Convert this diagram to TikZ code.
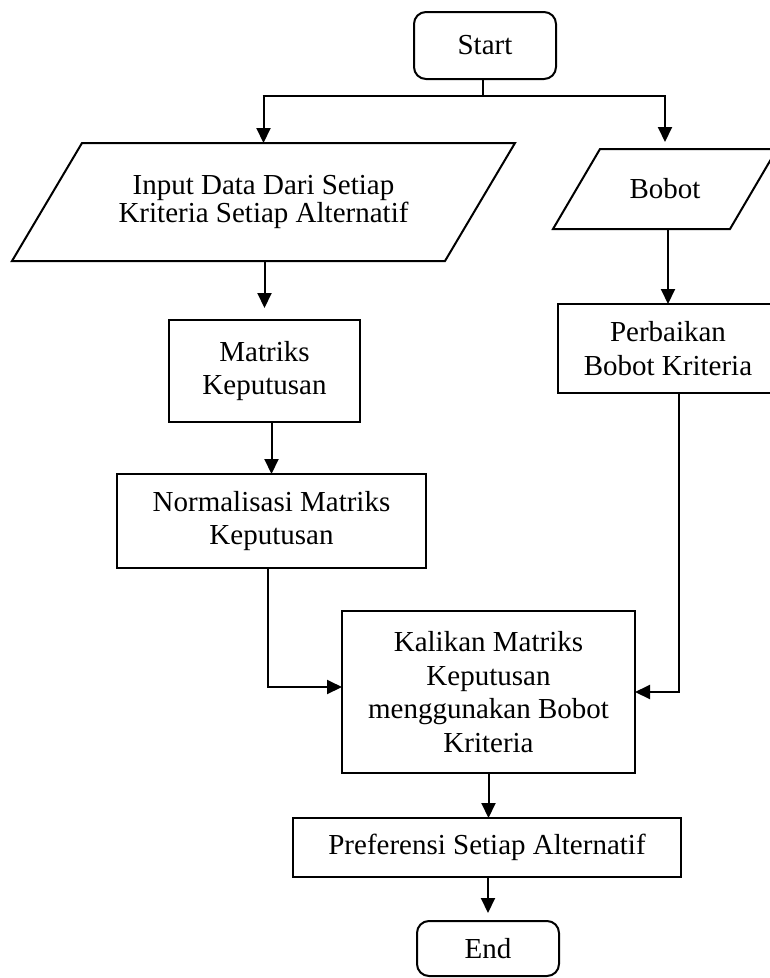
\documentclass[tikz,border=0pt]{standalone}
\usepackage{fontspec}
\setmainfont{Liberation Serif}
\usetikzlibrary{arrows.meta,calc}
\tikzset{
  line/.style={line width=2pt, line cap=butt},
  arr/.style={line, -{Triangle[length=15pt,width=14pt]}},
  boxnode/.style={draw, line width=2pt, rectangle, inner sep=0pt, outer sep=0pt, align=center,
    font=\fontsize{29pt}{33.5pt}\selectfont},
  termnode/.style={boxnode, rounded corners=12pt},
  ionode/.style={rectangle, inner sep=0pt, outer sep=0pt, align=center,
    font=\fontsize{29pt}{33.5pt}\selectfont}
}
\begin{document}
\begin{tikzpicture}[x=1pt,y=-1pt]
\clip (0,0) rectangle (770,978);
\fill[white] (0,0) rectangle (770,978);

% nodes
\node[termnode, minimum width=142pt, minimum height=67pt] (start) at (485,45.5) {Start};
\node[ionode, minimum width=503pt, minimum height=118pt,
      font=\fontsize{29pt}{28.5pt}\selectfont] (inp) at (263.5,202) {Input Data Dari Setiap\\Kriteria Setiap Alternatif};
\draw[line] ([xshift=70pt]inp.north west) -- (inp.north east) -- ([xshift=-70pt]inp.south east) -- (inp.south west) -- cycle;
\node[ionode, minimum width=224pt, minimum height=80pt] (bob) at (665,189) {Bobot};
\draw[line] ([xshift=47pt]bob.north west) -- (bob.north east) -- ([xshift=-47pt]bob.south east) -- (bob.south west) -- cycle;
\node[boxnode, minimum width=220pt, minimum height=89pt] (per) at (668,348.5) {Perbaikan\\Bobot Kriteria};
\node[boxnode, minimum width=191pt, minimum height=102pt] (mat) at (264.5,371) {Matriks\\Keputusan};
\node[boxnode, minimum width=309pt, minimum height=94pt] (norm) at (271.5,521) {Normalisasi Matriks\\Keputusan};
\node[boxnode, minimum width=293pt, minimum height=162pt] (kal) at (488.5,692) {Kalikan Matriks\\Keputusan\\menggunakan Bobot\\Kriteria};
\node[boxnode, minimum width=388pt, minimum height=59pt] (pref) at (487,847.5) {Preferensi Setiap Alternatif};
\node[termnode, minimum width=142pt, minimum height=55pt] (endn) at (488,948.5) {End};

% connectors
\draw[line] ([xshift=-2pt]start.south) -- ++(0,17) coordinate (j);
\draw[line] ([xshift=-1pt]j -| inp.north) -- ([xshift=1pt]j -| bob.north);
\draw[arr] (j -| inp.north) -- (inp.north);
\draw[arr] (j -| bob.north) -- ([yshift=7pt]bob.north);
\draw[arr] (per.north |- bob.south) -- (per.north);
\draw[arr] (mat.north |- inp.south) -- ([yshift=12pt]mat.north);
\draw[arr] (norm.north |- mat.south) -- (norm.north);
\draw[arr] ([xshift=-3.5pt]norm.south) |- ([yshift=5pt]kal.west);
\draw[arr] ([xshift=11pt]per.south) |- (kal.east);
\draw[arr] (kal.south) -- (kal.south |- pref.north);
\draw[arr] (pref.south -| endn.north) -- ([yshift=8pt]endn.north);
\end{tikzpicture}
\end{document}
